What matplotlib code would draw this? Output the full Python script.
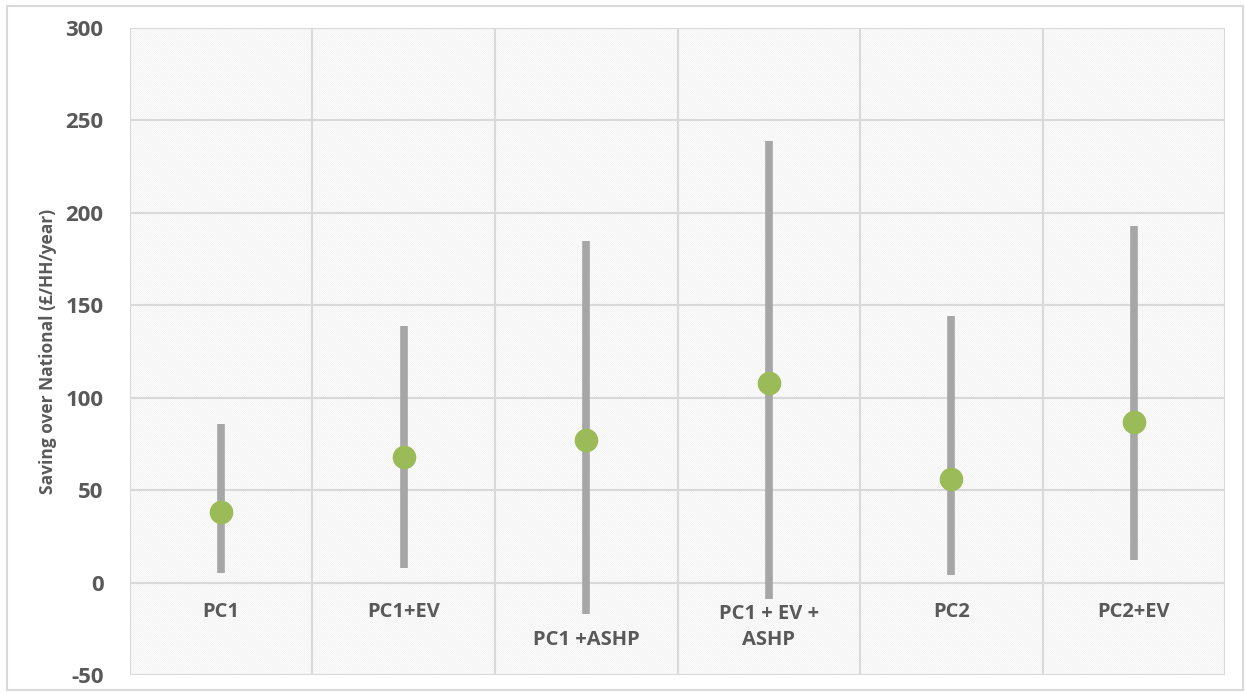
import matplotlib.pyplot as plt
from matplotlib.patches import Rectangle
import numpy as np

# ==============================
# DONNEES
# ==============================
categories = ['PC1', 'PC1+EV', 'PC1 +ASHP', 'PC1 + EV +\nASHP', 'PC2', 'PC2+EV']
low_vals = [5, 8, -17, -9, 4, 12]
high_vals = [86, 139, 185, 239, 144, 193]
mid_vals = [38, 68, 77, 108, 56, 87]
label_y = [-16, -16, -31, -24, -16, -16]
y_ticks = [-50, 0, 50, 100, 150, 200, 250, 300]

TEXT_COL = '#595959'
GRID_COL = '#d9d9d9'

plt.rcParams['font.family'] = ['Open Sans', 'DejaVu Sans']
plt.rcParams['hatch.linewidth'] = 0.4

fig = plt.figure(figsize=(12.45, 6.92), dpi=100)
ax = fig.add_axes([0.1044, 0.0246, 0.8796, 0.9349])

x = np.arange(len(categories))
ax.set_xlim(-0.5, len(categories) - 0.5)
ax.set_ylim(-50, 300)

# fond hachuré (fin et clair)
ax.add_patch(Rectangle((0, 0), 1, 1, transform=ax.transAxes, facecolor='white',
                       edgecolor='#ececec', lw=0, hatch='\\' * 16, zorder=0))

# grille
for yv in y_ticks:
    ax.axhline(yv, color=GRID_COL, lw=1.5, zorder=1)
for xb in np.arange(-0.5, len(categories), 1.0):
    ax.axvline(xb, color=GRID_COL, lw=1.5, zorder=1)

# barres min-max et points moyens
ax.vlines(x, low_vals, high_vals, color='#a6a6a6', lw=5.5, zorder=3)
ax.plot(x, mid_vals, 'o', color='#9bbb59', ms=17, mec='none', zorder=4)

# etiquettes des categories
for xi, lab, ly in zip(x, categories, label_y):
    ax.text(xi, ly, lab, ha='center', va='center', fontsize=14.5, fontweight='bold',
            color=TEXT_COL, linespacing=1.35, zorder=5)

ax.set_xticks([])
ax.set_yticks(y_ticks)
ax.set_yticklabels([str(v) for v in y_ticks], fontsize=16, fontweight='bold', color=TEXT_COL)
ax.tick_params(axis='y', length=0, pad=19)
for s in ax.spines.values():
    s.set_visible(False)

ax.set_ylabel('Saving over National (£/HH/year)', fontsize=12.5, fontweight='bold',
              color=TEXT_COL, labelpad=6)

# cadre exterieur
fig.add_artist(Rectangle((0.006, 0.003), 0.992, 0.988, transform=fig.transFigure,
                         fill=False, edgecolor='#d9d9d9', lw=1.5))

fig.savefig('out.png', dpi=100)
